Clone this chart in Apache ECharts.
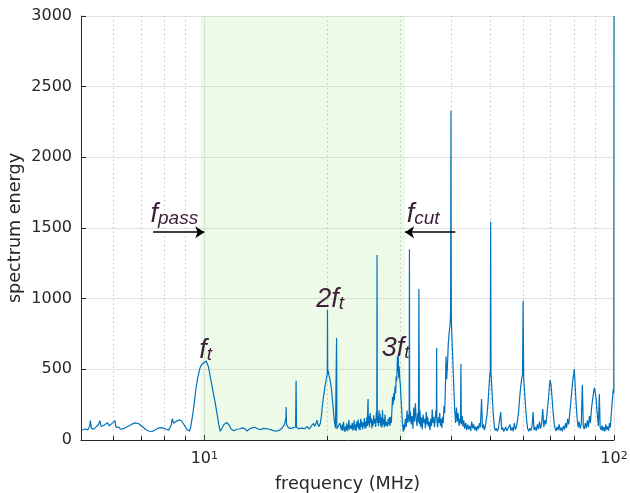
<!DOCTYPE html>
<html>
<head>
<meta charset="utf-8">
<title>spectrum energy</title>
<script src="https://cdn.jsdelivr.net/npm/echarts@6/dist/echarts.min.js"></script>
<style>
html, body { margin: 0; padding: 0; background: #fff; }
#chart { width: 630px; height: 493px; }
</style>
</head>
<body>
<div id="chart"></div>
<script>
// spectrum, [frequency (MHz), energy]
var spectrumBelowPass = [
    [5.00,71],[5.06,74],[5.12,78],[5.20,72],[5.25,100],[5.27,137],[5.30,82],[5.37,77],[5.45,95],[5.52,110],
    [5.56,137],[5.60,96],[5.66,104],[5.70,106],[5.76,118],[5.80,123],[5.86,100],[5.91,106],[5.96,118],[6.02,126],
    [6.05,137],[6.09,90],[6.14,84],[6.19,92],[6.24,76],[6.30,74],[6.35,80],[6.42,88],[6.48,94],[6.55,100],
    [6.62,108],[6.70,116],[6.78,121],[6.85,123],[6.92,115],[6.98,108],[7.05,95],[7.12,82],[7.20,74],[7.26,68],
    [7.33,62],[7.39,59],[7.46,60],[7.53,64],[7.60,72],[7.68,80],[7.75,86],[7.81,90],[7.88,88],[7.95,85],
    [8.02,80],[8.11,74],[8.18,70],[8.25,78],[8.30,105],[8.35,150],[8.37,158],[8.42,118],[8.47,128],[8.53,132],
    [8.60,138],[8.67,142],[8.74,146],[8.80,136],[8.86,124],[8.93,106],[9.00,92],[9.07,74],[9.14,60],[9.20,64],
    [9.26,90],[9.32,140],[9.38,190],[9.44,250],[9.50,320],[9.56,380],[9.62,430],[9.69,472],[9.76,510]
];

var spectrumPassLow = [
    [9.84,532],[9.92,542],[9.98,548],[10.04,555],[10.10,559],[10.16,545],[10.23,520],[10.30,475],[10.38,420],[10.46,370],
    [10.54,320],[10.62,270],[10.70,215],[10.78,160],[10.86,100],[10.94,62],[11.02,72],[11.10,95],[11.18,112],[11.26,120],
    [11.36,123],[11.45,115],[11.54,98],[11.62,78],[11.70,68],[11.80,66],[11.90,72],[12.00,76],[12.10,80],[12.18,78],
    [12.24,84],[12.30,80],[12.38,86],[12.45,90],[12.52,82],[12.60,70],[12.71,64],[12.80,70],[12.88,78],[12.95,82],
    [13.02,90],[13.10,86],[13.19,96],[13.28,90],[13.39,84],[13.50,80],[13.60,74],[13.69,72],[13.80,76],[13.93,82],
    [14.05,86],[14.15,80],[14.22,84],[14.35,78],[14.49,74],[14.62,70],[14.74,66],[14.90,62],[15.04,60],[15.18,66],
    [15.32,72],[15.45,82],[15.60,94],[15.70,110],[15.78,124],[15.82,160],[15.84,233],[15.87,112],[15.95,100],[16.05,86],
    [16.15,90],[16.25,82],[16.40,92],[16.50,88],[16.62,98],[16.70,92],[16.75,420],[16.79,90],[16.88,84],[17.00,80],
    [17.16,75],[17.30,84],[17.46,88],[17.60,80],[17.72,92],[17.80,96],[17.95,84],[18.05,78],[18.13,82],[18.25,100],
    [18.35,90],[18.48,118],[18.58,96],[18.66,104],[18.75,120],[18.84,141],[18.92,112],[18.98,108],[19.06,96],[19.12,94],
    [19.20,120]
];

var spectrumPassHigh = [
    [19.30,165],[19.40,230],[19.50,290],[19.60,330],[19.70,378],[19.80,412],[19.90,450],[19.96,470],[19.98,920],[20.01,470],
    [20.08,490],[20.16,455],[20.27,425],[20.36,390],[20.45,350],[20.55,280],[20.62,236],[20.70,170],[20.80,120],[20.90,84],
    [20.98,76],[21.03,722],[21.07,80],[21.14,92],[21.20,90],[21.30,104],[21.43,120],[21.50,96],[21.60,72],[21.70,110],
    [21.78,64],[21.86,128],[21.95,80],[22.04,58],[22.12,96],[22.20,70],[22.28,118],[22.36,62],[22.45,88],[22.54,141],
    [22.62,74],[22.70,60],[22.80,104],[22.88,78],[22.96,122],[23.05,66],[23.14,94],[23.22,140],[23.30,72],[23.40,110],
    [23.48,64],[23.56,130],[23.65,90],[23.74,145],[23.82,76],[23.90,118],[24.00,70],[24.08,150],[24.16,92],[24.25,130],
    [24.34,74],[24.42,120],[24.50,96],[24.58,155],[24.66,80],[24.75,130],[24.84,88],[24.92,160],[25.00,100],[25.06,230],
    [25.10,290],[25.14,110],[25.22,170],[25.30,90],[25.40,190],[25.48,120],[25.56,155],[25.65,84],[25.74,140],[25.82,100],
    [25.90,175],[26.00,118],[26.10,150],[26.20,92],[26.30,200],[26.36,140],[26.40,1309],[26.44,120],[26.52,170],[26.60,98],
    [26.70,210],[26.78,120],[26.86,185],[26.95,96],[27.05,160],[27.14,88],[27.22,212],[27.30,110],[27.40,150],[27.50,90],
    [27.60,180],[27.70,100],[27.80,130],[27.90,120],[28.00,94],[28.10,150],[28.20,110],[28.30,160],[28.40,100],[28.50,165],
    [28.60,120],[28.70,210],[28.80,306],[28.90,250],[29.00,332],[29.10,280],[29.20,380],[29.30,330],[29.40,450],[29.50,420],
    [29.60,590],[29.68,480],[29.75,600],[29.82,440],[29.90,520],[30.00,425],[30.10,390],[30.20,300],[30.30,230],[30.40,150],
    [30.50,94],[30.60,59],[30.70,110]
];

var spectrumAboveCut = [
    [30.80,72],[30.95,150],[31.10,90],[31.25,210],[31.40,120],[31.55,180],[31.62,140],[31.67,1350],[31.72,130],[31.85,200],
    [32.00,110],[32.15,170],[32.30,80],[32.45,230],[32.60,130],[32.75,260],[32.90,150],[33.05,100],[33.20,190],[33.32,130],
    [33.40,1068],[33.48,110],[33.60,210],[33.75,90],[33.90,160],[34.05,75],[34.20,180],[34.35,120],[34.50,150],[34.65,82],
    [34.80,200],[34.95,110],[35.10,165],[35.25,95],[35.40,130],[35.55,70],[35.70,150],[35.85,100],[36.00,215],[36.15,120],
    [36.30,165],[36.45,90],[36.60,140],[36.75,212],[36.85,160],[36.90,651],[36.95,140],[37.10,90],[37.25,160],[37.40,120],
    [37.55,190],[37.70,100],[37.85,150],[38.00,85],[38.15,165],[38.30,120],[38.45,240],[38.60,190],[38.75,350],[38.90,590],
    [39.05,430],[39.20,520],[39.40,680],[39.60,760],[39.80,814],[39.92,905],[40.00,2330],[40.08,860],[40.25,700],[40.45,540],
    [40.65,360],[40.85,210],[41.05,120],[41.25,230],[41.45,130],[41.65,190],[41.85,100],[42.05,150],[42.20,120],[42.30,538],
    [42.40,110],[42.60,170],[42.80,95],[43.00,140],[43.20,80],[43.45,120],[43.70,70],[43.95,110],[44.20,75],[44.45,100],
    [44.70,64],[44.95,130],[45.20,82],[45.45,110],[45.70,70],[45.95,95],[46.20,62],[46.45,100],[46.70,78],[46.95,120],
    [47.20,90],[47.50,290],[47.75,85],[48.00,110],[48.25,70],[48.50,95],[48.75,140],[49.00,180],[49.25,260],[49.50,360],
    [49.75,460],[49.90,495],[50.00,1545],[50.10,480],[50.30,380],[50.55,260],[50.80,160],[51.05,90],[51.30,68],[51.60,84],
    [51.90,62],[52.20,78],[52.50,64],[52.90,198],[53.20,72],[53.50,88],[53.80,60],[54.10,74],[54.40,92],[54.70,64],
    [55.00,80],[55.35,70],[55.70,110],[56.05,66],[56.40,90],[56.75,62],[57.10,120],[57.45,74],[57.80,96],[58.15,140],
    [58.50,200],[58.85,300],[59.20,380],[59.55,440],[59.80,460],[60.00,986],[60.20,430],[60.50,340],[60.85,230],[61.20,140],
    [61.55,80],[61.90,62],[62.30,84],[62.70,66],[63.10,100],[63.45,198],[63.80,70],[64.20,92],[64.60,64],[65.00,110],
    [65.40,76],[65.80,130],[66.20,80],[66.60,120],[67.00,219],[67.40,90],[67.80,140],[68.20,110],[68.60,180],[69.00,260],
    [69.40,340],[69.80,425],[70.20,390],[70.60,300],[71.00,200],[71.40,120],[71.80,84],[72.20,64],[72.60,92],[73.00,70],
    [73.45,110],[73.90,66],[74.35,88],[74.80,62],[75.25,100],[75.70,74],[76.15,120],[76.60,86],[77.05,150],[77.50,110],
    [77.95,180],[78.40,260],[78.85,340],[79.30,420],[79.70,460],[80.00,502],[80.40,380],[80.85,250],[81.30,150],[81.75,90],
    [82.20,130],[82.70,80],[83.20,110],[83.70,389],[84.15,100],[84.60,76],[85.10,120],[85.60,84],[86.10,140],[86.60,90],
    [87.10,170],[87.60,120],[88.10,220],[88.60,280],[89.10,330],[89.60,370],[90.00,382],[90.40,300],[90.80,220],[91.20,150],
    [91.60,100],[92.10,326],[92.50,90],[93.00,70],[93.50,104],[94.00,64],[94.50,92],[95.00,60],[95.50,110],[96.00,72],
    [96.50,96],[97.00,66],[97.50,120],[98.00,90],[98.40,170],[98.80,240],[99.20,300],[99.60,360],[99.85,330],[100.00,3000]
];

// pass band edges (MHz)
var passBand = [9.8, 30.9];
// dotted minor grid / minor ticks of the log axis
var minorFreqs = [6, 7, 8, 9, 20, 30, 40, 50, 60, 70, 80, 90];
// labels: [main, subscript, frequency, energy]
var noteLabels = [
    ['f', 't', 10.08, 635],
    ['2f', 't', 20.29, 993],
    ['3f', 't', 29.3, 647],
    ['f', 'pass', 8.45, 1595],
    ['f', 'cut', 34.2, 1595]
];
// arrows: [from frequency, to frequency, energy]
var noteArrows = [
    [7.5, 10, 1470],
    [41, 30.9, 1470]
];

var yMax = 3000;
var textColor = '#262626';
var noteColor = '#3d1f38';
var lineColor = '#0072bd';

var spectrum = spectrumBelowPass.concat(spectrumPassLow, spectrumPassHigh, spectrumAboveCut);

function isDecade(v) {
    var l = Math.log(v) / Math.LN10;
    return Math.abs(l - Math.round(l)) < 1e-6;
}

var minorGrid = minorFreqs.map(function (f) {
    return [{coord: [f, 0]}, {coord: [f, yMax]}];
});
var minorTicks = minorFreqs.map(function (f) {
    return [{coord: [f, 0]}, {coord: [f, 28]}];
});
var arrowLines = noteArrows.map(function (a) {
    return [{coord: [a[0], a[2]]}, {coord: [a[1], a[2]]}];
});
var notePoints = noteLabels.map(function (n) {
    return {
        coord: [n[2], n[3]],
        label: {formatter: '{m|' + n[0] + '}{s|' + n[1] + '}'}
    };
});

var chart = echarts.init(document.getElementById('chart'));
chart.setOption({
    animation: false,
    grid: {left: 81, right: 16, top: 16, bottom: 53, containLabel: false, outerBoundsMode: 'none'},
    xAxis: {
        type: 'log',
        logBase: 10,
        min: 5,
        max: 100,
        name: 'frequency (MHz)',
        nameLocation: 'middle',
        nameGap: 35,
        nameMoveOverlap: false,
        nameTextStyle: {fontSize: 17.6, color: textColor, fontFamily: 'DejaVu Sans'},
        axisLine: {show: true, lineStyle: {color: textColor, width: 1}},
        axisTick: {show: true, inside: true, length: 5, lineStyle: {color: textColor}},
        axisLabel: {
            margin: 11,
            formatter: function (v) {
                if (!isDecade(v)) return '';
                return '{b|10}{s|' + Math.round(Math.log(v) / Math.LN10) + '}';
            },
            rich: {
                b: {fontSize: 16, lineHeight: 16, padding: [3, 0, 0, 0], verticalAlign: 'bottom', color: textColor, fontFamily: 'DejaVu Sans'},
                s: {fontSize: 11, lineHeight: 11, verticalAlign: 'top', color: textColor, fontFamily: 'DejaVu Sans'}
            }
        },
        splitLine: {show: true, lineStyle: {color: '#e2e2e2', width: 1}}
    },
    yAxis: {
        type: 'value',
        min: 0,
        max: yMax,
        interval: 500,
        name: 'spectrum energy',
        nameLocation: 'middle',
        nameGap: 57,
        nameMoveOverlap: false,
        nameTextStyle: {fontSize: 17.6, color: textColor, fontFamily: 'DejaVu Sans'},
        axisLine: {show: true, lineStyle: {color: textColor, width: 1}},
        axisTick: {show: true, inside: true, length: 5, lineStyle: {color: textColor}},
        axisLabel: {
            fontSize: 16,
            margin: 9,
            color: textColor,
            fontFamily: 'DejaVu Sans',
            formatter: function (v) { return String(v); }
        },
        splitLine: {show: true, lineStyle: {color: '#e2e2e2', width: 1}}
    },
    series: [
        {
            // pass band and dotted minor grid
            type: 'line',
            data: [],
            silent: true,
            markArea: {
                silent: true,
                z: 1,
                itemStyle: {color: 'rgba(142,222,102,0.15)'},
                data: [[{xAxis: passBand[0]}, {xAxis: passBand[1]}]]
            },
            markLine: {
                silent: true,
                z: 1,
                symbol: 'none',
                label: {show: false},
                lineStyle: {type: [1.5, 3], color: '#c4c4c4', width: 1},
                data: minorGrid
            }
        },
        {
            name: 'spectrum',
            type: 'line',
            z: 2,
            data: spectrum,
            showSymbol: false,
            symbol: 'none',
            lineStyle: {color: lineColor, width: 1.2},
            clip: true
        },
        {
            // minor ticks on the frequency axis
            type: 'line',
            data: [],
            silent: true,
            markLine: {
                silent: true,
                z: 4,
                symbol: 'none',
                label: {show: false},
                lineStyle: {type: 'solid', color: textColor, width: 1},
                data: minorTicks
            }
        },
        {
            // f_pass / f_cut arrows and the harmonic labels
            type: 'line',
            data: [],
            silent: true,
            markLine: {
                silent: true,
                z: 5,
                symbol: ['none', 'arrow'],
                symbolSize: 9,
                label: {show: false},
                lineStyle: {type: 'solid', color: '#000', width: 1.5},
                data: arrowLines
            },
            markPoint: {
                silent: true,
                z: 5,
                symbol: 'circle',
                symbolSize: 0,
                itemStyle: {color: 'transparent'},
                label: {
                    show: true,
                    position: 'inside',
                    rich: {
                        m: {fontSize: 27, lineHeight: 27, verticalAlign: 'top', fontStyle: 'italic', color: noteColor, fontFamily: 'Liberation Sans'},
                        s: {fontSize: 19, lineHeight: 19, padding: [14, 0, 0, 0], verticalAlign: 'bottom', fontStyle: 'italic', color: noteColor, fontFamily: 'Liberation Sans'}
                    }
                },
                data: notePoints
            }
        }
    ]
});

window.addEventListener('resize', function () {
    chart.resize();
});
</script>
</body>
</html>
